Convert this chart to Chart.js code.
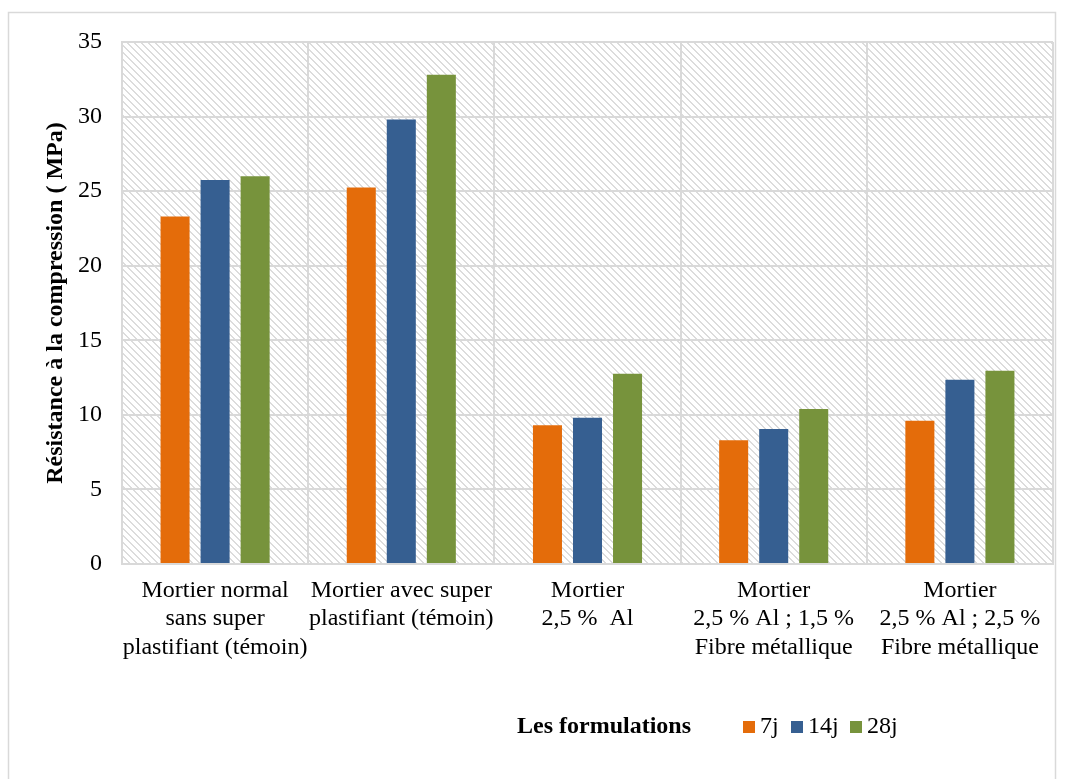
<!DOCTYPE html>
<html lang="fr">
<head>
<meta charset="utf-8">
<title>Résistance à la compression</title>
<script src="https://cdn.jsdelivr.net/npm/chart.js@4/dist/chart.umd.min.js"></script>
<style>
  html, body { margin: 0; padding: 0; background: #ffffff; }
  #wrap { position: relative; width: 1068px; height: 779px; }
</style>
</head>
<body>
<div id="wrap"><canvas id="chart" width="1068" height="779"></canvas></div>
<script>
// Formulations (categories), one array per line of the label
const categories = [
  ['Mortier normal', 'sans super', 'plastifiant (témoin)'],
  ['Mortier avec super', 'plastifiant (témoin)'],
  ['Mortier', '2,5 %  Al'],
  ['Mortier', '2,5 % Al ; 1,5 %', 'Fibre métallique'],
  ['Mortier', '2,5 % Al ; 2,5 %', 'Fibre métallique']
];

// Compressive strength (MPa) at each curing age
const seriesNames = ['7j', '14j', '28j'];
const values7j  = [23.3, 25.25, 9.3, 8.3, 9.6];
const values14j = [25.75, 29.8, 9.8, 9.05, 12.35];
const values28j = [26.0, 32.8, 12.75, 10.4, 12.95];

const yTicks = [0, 5, 10, 15, 20, 25, 30, 35];

const yTitle = 'Résistance à la compression ( MPa)';
const legendTitle = 'Les formulations';

const colors = ['#E46C0A', '#365F91', '#77933C'];
const gridColor = '#d9d9d9';
const serif = "'Liberation Serif', 'Times New Roman', serif";

// Diagonal hatching used as the plot-area background
function makeHatch() {
  const size = 7;
  const c = document.createElement('canvas');
  c.width = size; c.height = size;
  const g = c.getContext('2d');
  g.fillStyle = '#ffffff';
  g.fillRect(0, 0, size, size);
  g.fillStyle = '#dcdcdc';
  for (let y = 0; y < size; y++) {
    for (let k = 0; k < 2; k++) {
      const x = (y + k) % size;
      g.fillRect(x, y, 1, 1);
    }
  }
  return g.createPattern(c, 'repeat');
}

const hatchPlugin = {
  id: 'hatchBackground',
  beforeDraw(chart) {
    const { ctx, chartArea: a } = chart;
    ctx.save();
    // outer frame of the figure
    ctx.strokeStyle = gridColor;
    ctx.lineWidth = 1.5;
    ctx.strokeRect(8.5, 12.5, 1047, 800);
    ctx.fillStyle = makeHatch();
    ctx.fillRect(a.left, a.top, a.right - a.left, a.bottom - a.top);
    ctx.restore();
  }
};

// Legend drawn beside the axis label "Les formulations"
const legendPlugin = {
  id: 'sideLegend',
  afterDraw(chart) {
    const { ctx } = chart;
    const cy = 727;
    ctx.save();
    ctx.textBaseline = 'middle';
    ctx.textAlign = 'left';
    ctx.fillStyle = '#000000';
    ctx.font = 'bold 24px ' + serif;
    ctx.fillText(legendTitle, 517, cy);
    ctx.font = '24px ' + serif;
    const starts = [743, 791, 850];
    chart.data.datasets.forEach((ds, i) => {
      const x = starts[i];
      ctx.fillStyle = ds.backgroundColor;
      ctx.fillRect(x, cy - 6, 12, 12);
      ctx.fillStyle = '#000000';
      ctx.fillText(ds.label, x + 17, cy);
    });
    ctx.restore();
  }
};

const datasets = [values7j, values14j, values28j].map((vals, i) => ({
  label: seriesNames[i],
  data: vals,
  backgroundColor: colors[i],
  borderWidth: 0,
  categoryPercentage: 0.645,
  barPercentage: 0.725
}));

new Chart(document.getElementById('chart'), {
  type: 'bar',
  data: { labels: categories, datasets },
  options: {
    responsive: false,
    animation: false,
    devicePixelRatio: 1,
    layout: { padding: { left: 0, top: 42, right: 15, bottom: 0 } },
    plugins: {
      legend: { display: false },
      tooltip: { enabled: false },
      title: { display: false }
    },
    scales: {
      x: {
        grid: { offset: true, color: gridColor, lineWidth: 2, drawTicks: false },
        border: { display: true, color: gridColor, width: 2 },
        ticks: {
          autoSkip: false, maxRotation: 0, minRotation: 0,
          padding: 12, color: '#000000',
          font: { family: serif, size: 24, lineHeight: 1.2 }
        },
        afterFit(scale) { scale.height = 215; }
      },
      y: {
        min: 0, max: 35,
        afterBuildTicks(scale) { scale.ticks = yTicks.map(v => ({ value: v })); },
        grid: { color: gridColor, lineWidth: 2, drawTicks: false },
        border: { display: true, color: gridColor, width: 2 },
        ticks: {
          padding: 20, color: '#000000',
          font: { family: serif, size: 24 }
        },
        title: {
          display: true, text: yTitle, color: '#000000',
          font: { family: serif, size: 24, weight: 'bold', lineHeight: 1.2 },
          padding: { top: 41, bottom: 0 }
        },
        afterFit(scale) { scale.width = 122; }
      }
    }
  },
  plugins: [hatchPlugin, legendPlugin]
});
</script>
</body>
</html>
